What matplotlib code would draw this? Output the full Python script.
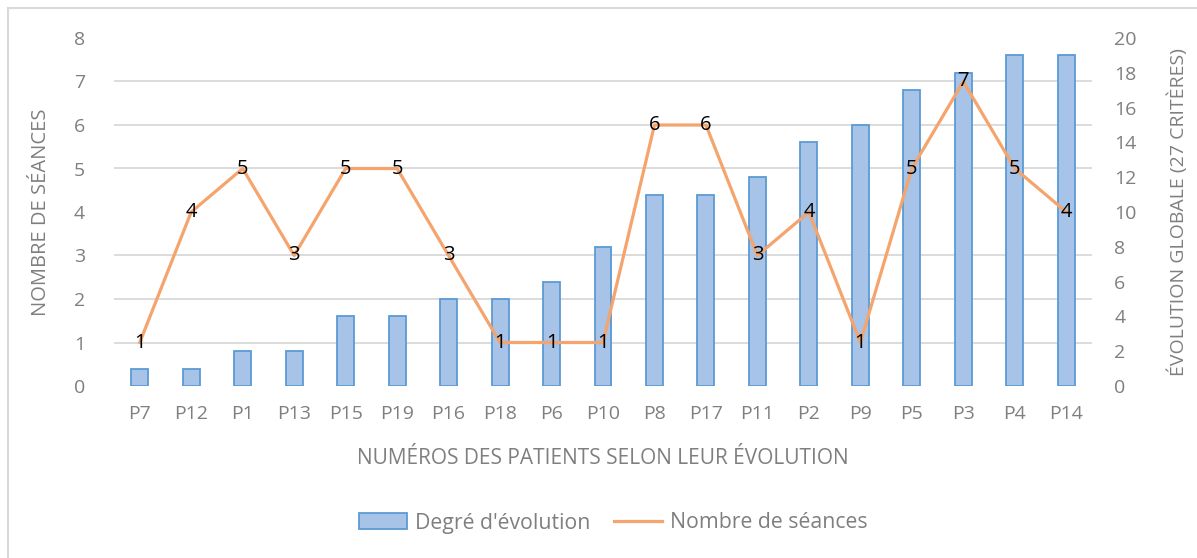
import numpy as np
import matplotlib
matplotlib.use("Agg")
import matplotlib.pyplot as plt
from matplotlib.lines import Line2D
from matplotlib.patches import Patch

patients = ["P7", "P12", "P1", "P13", "P15", "P19", "P16", "P18", "P6", "P10",
            "P8", "P17", "P11", "P2", "P9", "P5", "P3", "P4", "P14"]
degre = [1, 1, 2, 2, 4, 4, 5, 5, 6, 8, 11, 11, 12, 14, 15, 17, 18, 19, 19]
seances = [1, 4, 5, 3, 5, 5, 3, 1, 1, 1, 6, 6, 3, 4, 1, 5, 7, 5, 4]

plt.rcParams['font.family'] = ['Open Sans', 'DejaVu Sans']
gray = '#7f7f7f'
bar_edge = '#5b9bd5'
orange = '#f4a46c'

fig = plt.figure(figsize=(11.97, 5.58), dpi=100)
ax = fig.add_axes([114 / 1197, 1 - 386 / 558, 978 / 1197, 348 / 558])
ax2 = ax.twinx()
x = np.arange(len(patients))

# bars go on the right axis, line on the left axis drawn above them
ax.set_zorder(ax2.get_zorder() + 1)
ax.patch.set_visible(False)

ax2.set_ylim(0, 20)
ax2.set_xlim(-0.5, len(patients) - 0.5)
bars = ax2.bar(x, degre, width=0.33, color='#a7c3e7', edgecolor=bar_edge,
               linewidth=1.3, zorder=3)
# vertical gradient inside each bar
grad = np.linspace(0, 1, 256).reshape(-1, 1)
cmap = matplotlib.colors.LinearSegmentedColormap.from_list('g', ['#8fb4e3', '#b4cdec'])
for b in bars:
    x0, w, h = b.get_x(), b.get_width(), b.get_height()
    im = ax2.imshow(grad, cmap=cmap, extent=[x0, x0 + w, 0, h], origin='lower',
                    aspect='auto', zorder=2.5)
    im.set_clip_path(b)
ax2.set_xlim(-0.5, len(patients) - 0.5)
ax2.set_ylim(0, 20)

# gridlines follow the left axis (0..8), which is every 2.5 on the right axis
ax2.set_yticks(np.arange(0, 21, 2.5), minor=True)
ax2.grid(True, which='minor', axis='y', color='#d9d9d9', linewidth=1.3, zorder=0)
ax2.tick_params(axis='y', which='minor', length=0)
ax2.set_yticks(np.arange(0, 21, 2))
ax2.tick_params(axis='y', which='major', length=0, colors=gray, labelsize=14, pad=16)
ax2.set_ylabel("ÉVOLUTION GLOBALE (27 CRITÈRES)", color=gray, fontsize=14, labelpad=22)

ax.plot(x, seances, color=orange, linewidth=2.3, zorder=4)
for xi, v in zip(x, seances):
    ax.text(xi, v, str(v), ha='center', va='center', fontsize=14.5, color='black', zorder=5)
ax.set_ylim(0, 8)
ax.set_xlim(-0.5, len(patients) - 0.5)
ax.set_yticks(range(0, 9))
ax.set_xticks(x)
ax.set_xticklabels(patients)
ax.tick_params(axis='both', length=0, colors=gray, labelsize=14)
ax.tick_params(axis='y', pad=21)
ax.tick_params(axis='x', pad=14)
ax.set_ylabel("NOMBRE DE SÉANCES", color=gray, fontsize=14.5, labelpad=16)
ax.set_xlabel("NUMÉROS DES PATIENTS SELON LEUR ÉVOLUTION", color=gray, fontsize=15, labelpad=18)

for a in (ax, ax2):
    for s in a.spines.values():
        s.set_visible(False)

handles = [Patch(facecolor='#a7c3e7', edgecolor=bar_edge, linewidth=1.3),
           Line2D([0], [0], color=orange, linewidth=2.3)]
fig.legend(handles, ["Degré d'évolution", "Nombre de séances"],
           loc='center', bbox_to_anchor=(613 / 1197, 1 - 523 / 558), ncol=2,
           frameon=False, fontsize=15.3, labelcolor=gray, handlelength=2.3,
           handleheight=0.8, handletextpad=0.35, columnspacing=1.1)

# chart frame
fig.add_artist(Line2D([8 / 1197, 8 / 1197], [0, 1 - 8 / 558], color='#d9d9d9',
                      linewidth=1.5, transform=fig.transFigure))
fig.add_artist(Line2D([8 / 1197, 1], [1 - 8 / 558, 1 - 8 / 558], color='#d9d9d9',
                      linewidth=1.5, transform=fig.transFigure))

fig.savefig("out.png", dpi=100)
